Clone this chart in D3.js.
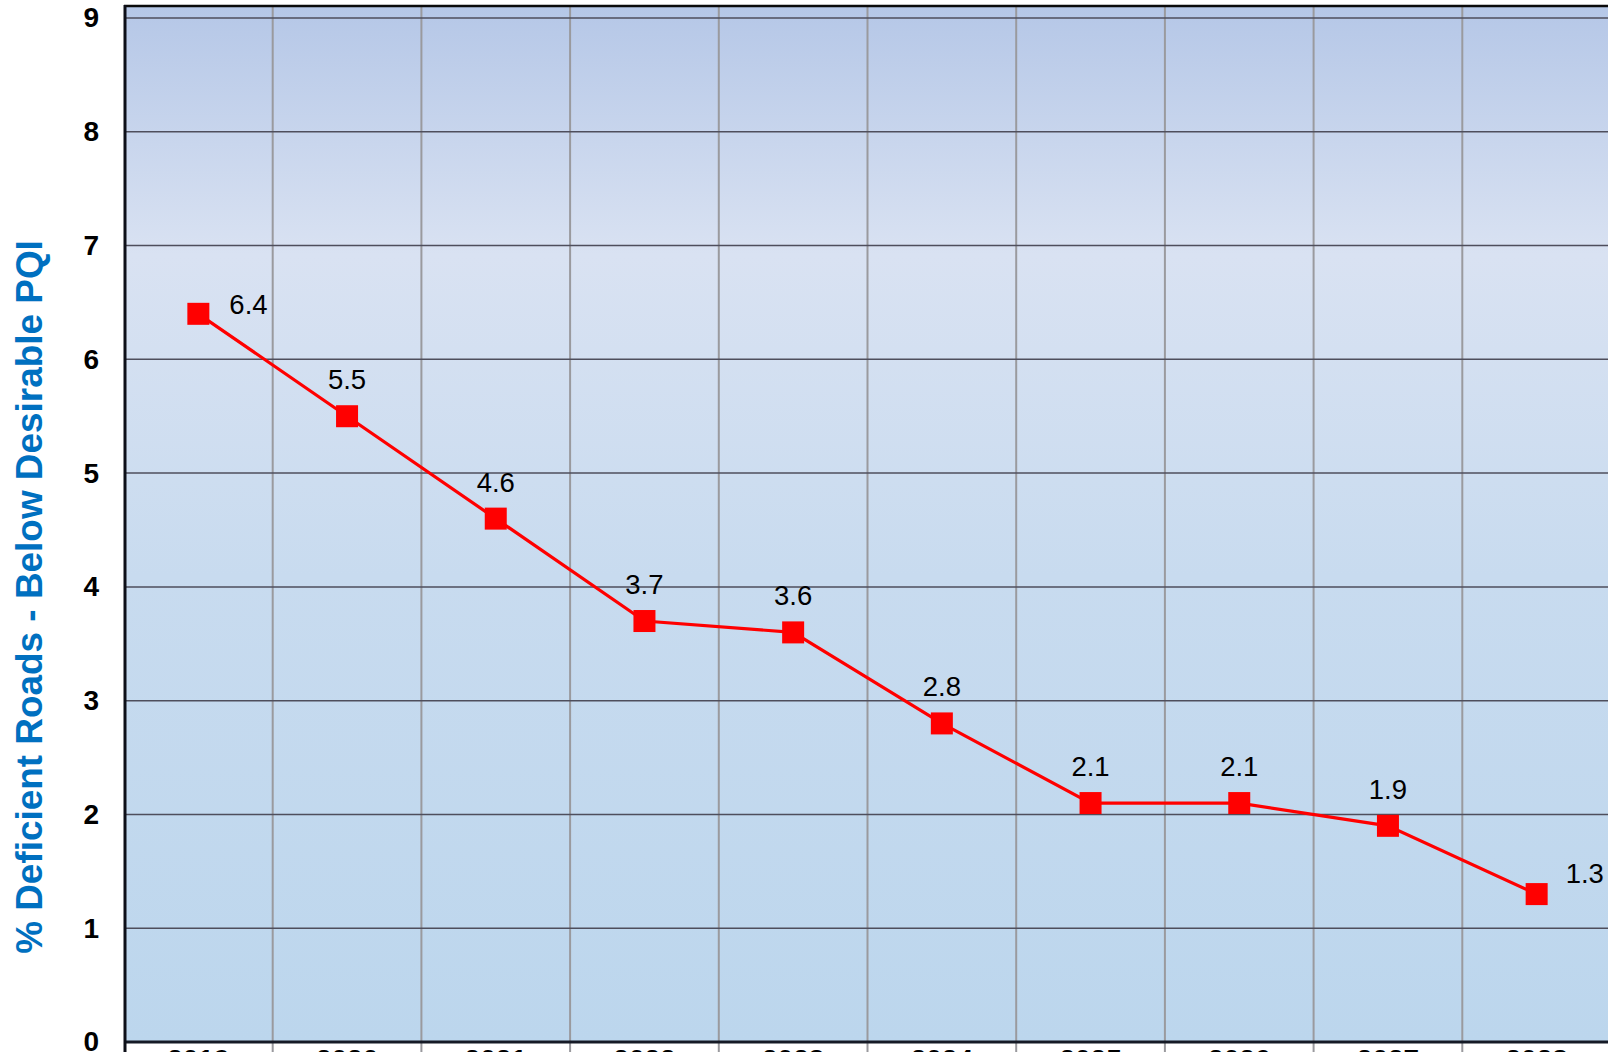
<!DOCTYPE html>
<html>
<head>
<meta charset="utf-8">
<script src="https://cdn.jsdelivr.net/npm/d3@7"></script>
<style>
  html, body { margin: 0; padding: 0; background: #ffffff; overflow: hidden; }
  svg { display: block; }
</style>
</head>
<body>
<svg id="chart" width="1608" height="1052"></svg>
<script>
const years = ['2019', '2020', '2021', '2022', '2023', '2024', '2025', '2026', '2027', '2028'];
const values = [6.4, 5.5, 4.6, 3.7, 3.6, 2.8, 2.1, 2.1, 1.9, 1.3];
const yTicks = [0, 1, 2, 3, 4, 5, 6, 7, 8, 9];
const yTitle = '% Deficient Roads - Below Desirable PQI';

const W = 1608, H = 1052;
const plotLeft = 124, plotRight = 1611, plotTop = 6, plotBottom = 1042;
const font = "'Liberation Sans', Arial, sans-serif";

const svg = d3.select('#chart');

const x = d3.scaleBand().domain(years).range([plotLeft, plotRight]).padding(0);
const y = d3.scaleLinear().domain([0, 9]).range([plotBottom, 18]);

// gradient background
const defs = svg.append('defs');
const grad = defs.append('linearGradient').attr('id', 'bg')
  .attr('x1', 0).attr('y1', 0).attr('x2', 0).attr('y2', 1);
[[0, '#b5c7e7'], [0.24, '#d9e2f2'], [0.55, '#c8dbef'], [1, '#bcd6ed']].forEach(([o, c]) => {
  grad.append('stop').attr('offset', o).attr('stop-color', c);
});

svg.append('rect')
  .attr('x', plotLeft).attr('y', plotTop)
  .attr('width', plotRight - plotLeft).attr('height', plotBottom - plotTop)
  .attr('fill', 'url(#bg)');

// vertical gridlines (category boundaries), extending below axis as ticks
const boundaries = years.slice(1).map(d => x(d)).concat([x(years[years.length - 1]) + x.bandwidth()]);
svg.append('g').selectAll('line').data(boundaries).join('line')
  .attr('x1', d => d).attr('x2', d => d)
  .attr('y1', plotTop).attr('y2', H)
  .attr('stroke', '#9a9a9e').attr('stroke-width', 2);

// horizontal gridlines
svg.append('g').selectAll('line').data(yTicks.filter(t => t > 0)).join('line')
  .attr('x1', plotLeft).attr('x2', plotRight)
  .attr('y1', d => y(d)).attr('y2', d => y(d))
  .attr('stroke', '#4e4e5c').attr('stroke-width', 1.5);

// frame
svg.append('line').attr('x1', plotLeft).attr('x2', W).attr('y1', plotTop).attr('y2', plotTop)
  .attr('stroke', '#0a0a0a').attr('stroke-width', 2.5);
svg.append('line').attr('x1', plotLeft).attr('x2', W).attr('y1', plotBottom).attr('y2', plotBottom)
  .attr('stroke', '#151a26').attr('stroke-width', 3);
svg.append('line').attr('x1', plotLeft + 1).attr('x2', plotLeft + 1).attr('y1', plotTop - 1).attr('y2', H)
  .attr('stroke', '#0d0f18').attr('stroke-width', 3);

// y axis labels
const yAxis = svg.append('g').attr('transform', `translate(${plotLeft + 1},0)`)
  .call(d3.axisLeft(y).tickValues(yTicks).tickSize(0).tickPadding(26).tickFormat(d3.format('d')));
yAxis.select('.domain').remove();
yAxis.selectAll('text')
  .attr('font-family', font).attr('font-size', 28).attr('font-weight', 'bold').attr('fill', '#000');

// x axis labels
const xAxis = svg.append('g').attr('transform', `translate(0,${plotBottom})`)
  .call(d3.axisBottom(x).tickSize(0).tickPadding(7));
xAxis.select('.domain').remove();
xAxis.selectAll('text')
  .attr('font-family', font).attr('font-size', 28).attr('font-weight', 'bold').attr('fill', '#000');

// y title
const title = svg.append('text')
  .attr('transform', 'rotate(-90)')
  .attr('x', -597).attr('y', 42)
  .attr('text-anchor', 'middle')
  .attr('font-family', font).attr('font-weight', 'bold').attr('font-size', 34)
  .attr('fill', '#0070c0')
  .text(yTitle);
const len = title.node().getComputedTextLength();
title.attr('font-size', 34 * 714 / len);

// line
const cx = d => x(d) + x.bandwidth() / 2;
const pts = years.map((yr, i) => ({ yr, v: values[i] }));
svg.append('path').datum(pts)
  .attr('d', d3.line().x(d => cx(d.yr)).y(d => y(d.v)))
  .attr('fill', 'none').attr('stroke', '#ff0000').attr('stroke-width', 3.2);

// markers
const ms = 22;
svg.append('g').selectAll('rect').data(pts).join('rect')
  .attr('x', d => cx(d.yr) - ms / 2).attr('y', d => y(d.v) - ms / 2)
  .attr('width', ms).attr('height', ms)
  .attr('fill', '#ff0000');

// data labels
svg.append('g').selectAll('text').data(pts).join('text')
  .attr('font-family', font).attr('font-size', 27.5).attr('fill', '#000')
  .attr('text-anchor', (d, i) => (i === 0 || i === pts.length - 1) ? 'start' : 'middle')
  .attr('x', (d, i) => cx(d.yr) + (i === 0 ? 31 : i === pts.length - 1 ? 29 : 0))
  .attr('y', (d, i) => y(d.v) + (i === 0 ? 0 : i === pts.length - 1 ? -11 : -27))
  .text(d => d3.format('.1f')(d.v));
</script>
</body>
</html>
